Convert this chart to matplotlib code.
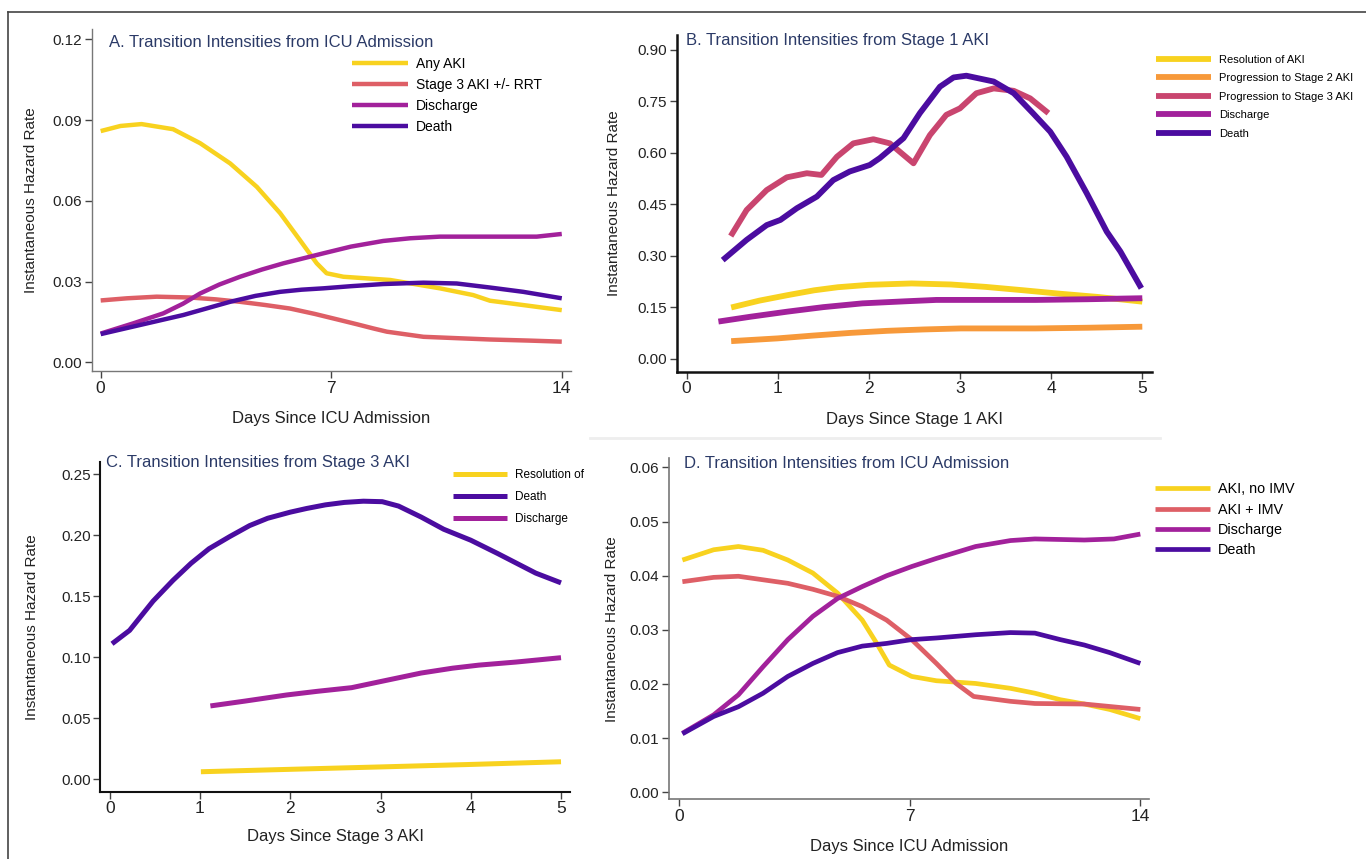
"""
Transition intensities (instantaneous hazard rates) - four panel figure.
"""

import matplotlib
matplotlib.use("Agg")
import matplotlib.pyplot as plt
from matplotlib.lines import Line2D

plt.rcParams["font.family"] = ["Liberation Sans", "DejaVu Sans"]

# colours
YELLOW = "#f8d21f"
RED = "#de5f66"
MAGENTA = "#a2219b"
INDIGO = "#4b0ca0"
ORANGE = "#f7993a"
ROSE = "#c9456f"
TITLE_COLOR = "#2b3a67"

# ---------------- Panel A: from ICU admission ----------------
a_aki_days = [0, 0.6, 1.24, 2.2, 3.02, 3.93, 4.74, 5.45, 6.05, 6.56, 6.86, 7.37,
              8.79, 10.3, 11.31, 11.82, 12.33, 14]
a_any_aki = [0.0859, 0.0878, 0.0885, 0.0866, 0.0814, 0.0739, 0.0652, 0.0554,
             0.0454, 0.0368, 0.0331, 0.0318, 0.0306, 0.0275, 0.0250, 0.0229,
             0.0221, 0.0194]
a_s3_days = [0, 0.8, 1.7, 2.71, 3.5, 4.23, 5.0, 5.75, 6.5, 7.27, 7.8, 8.28, 8.69,
             9.8, 10.8, 11.82, 13, 14]
a_stage3 = [0.0230, 0.0238, 0.0244, 0.0241, 0.0234, 0.0225, 0.0213, 0.0200,
            0.0180, 0.0157, 0.0141, 0.0126, 0.0114, 0.0095, 0.0090, 0.0085,
            0.0081, 0.0077]
a_dis_days = [0, 0.99, 1.9, 2.5, 3.02, 3.6, 4.23, 4.9, 5.55, 6.76, 7.6, 8.58, 9.4,
              10.3, 12.33, 13.24, 14]
a_discharge = [0.0107, 0.0145, 0.0182, 0.0218, 0.0256, 0.0289, 0.0318, 0.0345,
               0.0368, 0.0405, 0.0430, 0.0451, 0.0461, 0.0467, 0.0467, 0.0467, 0.0477]
a_death_days = [0, 1.2, 2.51, 3.93, 4.7, 5.45, 6.1, 6.76, 7.6, 8.58, 9.8, 10.81,
                11.82, 12.83, 14]
a_death = [0.0105, 0.0139, 0.0176, 0.0225, 0.0247, 0.0262, 0.0270, 0.0275,
           0.0283, 0.0291, 0.0296, 0.0293, 0.0278, 0.0262, 0.0238]

# ---------------- Panel B: from stage 1 AKI ----------------
b_resol_days = [0.49, 0.8, 1.11, 1.4, 1.66, 2.0, 2.47, 2.9, 3.28, 3.7, 4.1, 4.5, 5.0]
b_resol = [0.150, 0.170, 0.186, 0.200, 0.209, 0.216, 0.220, 0.217, 0.210,
           0.200, 0.190, 0.181, 0.167]
b_stage2_days = [0.49, 1.0, 1.38, 1.8, 2.2, 2.6, 3.01, 3.5, 3.83, 4.4, 5.0]
b_stage2 = [0.052, 0.060, 0.068, 0.076, 0.082, 0.086, 0.089, 0.089, 0.089, 0.091, 0.094]
b_stage3_days = [0.485, 0.66, 0.88, 1.10, 1.32, 1.48, 1.65, 1.83, 2.05, 2.23,
                 2.49, 2.67, 2.85, 3.0, 3.18, 3.37, 3.59, 3.77, 3.97]
b_stage3 = [0.358, 0.434, 0.492, 0.529, 0.541, 0.536, 0.589, 0.628, 0.640, 0.628,
            0.570, 0.652, 0.711, 0.730, 0.774, 0.788, 0.781, 0.759, 0.716]
b_disch_days = [0.35, 0.7, 1.11, 1.5, 1.93, 2.4, 2.74, 3.3, 3.83, 4.4, 5.0]
b_discharge = [0.109, 0.123, 0.138, 0.151, 0.162, 0.168, 0.172, 0.172, 0.172, 0.174, 0.177]
b_death_days = [0.397, 0.66, 0.88, 1.03, 1.21, 1.43, 1.61, 1.79, 2.01, 2.12, 2.38,
                2.56, 2.78, 2.93, 3.07, 3.37, 3.59, 3.80, 3.99, 4.17, 4.39, 4.61,
                4.76, 4.99]
b_death = [0.288, 0.347, 0.390, 0.405, 0.439, 0.473, 0.521, 0.546, 0.565, 0.585,
           0.643, 0.716, 0.793, 0.820, 0.825, 0.808, 0.774, 0.716, 0.662, 0.589,
           0.483, 0.371, 0.313, 0.206]

# ---------------- Panel C: from stage 3 AKI ----------------
c_resol_days = [1.01, 2.0, 3.02, 4.0, 5.0]
c_resol = [0.006, 0.008, 0.010, 0.012, 0.0142]
c_death_days = [0.025, 0.22, 0.48, 0.7, 0.9, 1.1, 1.33, 1.55, 1.75, 2.0, 2.18, 2.39,
                2.6, 2.81, 3.02, 3.2, 3.45, 3.7, 4.0, 4.3, 4.72, 5.0]
c_death = [0.111, 0.122, 0.146, 0.163, 0.177, 0.189, 0.199, 0.208, 0.214, 0.219,
           0.222, 0.225, 0.227, 0.228, 0.2276, 0.224, 0.215, 0.205, 0.196, 0.185,
           0.169, 0.161]
c_disch_days = [1.115, 1.5, 1.96, 2.3, 2.68, 3.0, 3.45, 3.8, 4.09, 4.5, 5.0]
c_discharge = [0.060, 0.064, 0.069, 0.072, 0.075, 0.080, 0.087, 0.091, 0.0935, 0.096, 0.0996]

# ---------------- Panel D: from ICU admission (IMV split) ----------------
d_noimv_days = [0.1, 1.05, 1.8, 2.55, 3.3, 4.06, 4.81, 5.56, 6.0, 6.38, 7.06, 7.81,
                9.0, 10.06, 10.8, 11.57, 12.3, 13.07, 14]
d_aki_noimv = [0.0429, 0.0448, 0.0454, 0.0447, 0.0429, 0.0405, 0.0368, 0.0318,
               0.0275, 0.0235, 0.0214, 0.0206, 0.0201, 0.0192, 0.0183, 0.0171,
               0.0163, 0.0153, 0.0136]
d_imv_days = [0.1, 1.05, 1.8, 3.3, 4.06, 4.81, 5.56, 6.3, 7.06, 7.81, 8.41, 8.94,
              10.06, 10.8, 12.3, 14]
d_aki_imv = [0.0389, 0.0397, 0.0399, 0.0386, 0.0375, 0.0362, 0.0343, 0.0318,
             0.0282, 0.0238, 0.0201, 0.0177, 0.0168, 0.0164, 0.0163, 0.0153]
d_disch_days = [0.1, 1.05, 1.8, 2.55, 3.3, 4.06, 4.81, 5.56, 6.3, 7.06, 7.81, 9.0,
                10.06, 10.8, 12.3, 13.2, 14]
d_discharge = [0.0109, 0.0143, 0.0180, 0.0232, 0.0282, 0.0325, 0.0358, 0.0380,
               0.0400, 0.0417, 0.0432, 0.0454, 0.0465, 0.0468, 0.0466, 0.0468, 0.0477]
d_death_days = [0.1, 1.05, 1.8, 2.55, 3.3, 4.06, 4.81, 5.56, 6.3, 7.06, 7.81, 9.0,
                10.06, 10.8, 11.57, 12.3, 13.07, 14]
d_death = [0.0108, 0.0140, 0.0158, 0.0183, 0.0214, 0.0238, 0.0258, 0.0270, 0.0275,
           0.0282, 0.0285, 0.0291, 0.0295, 0.0294, 0.0282, 0.0272, 0.0258, 0.0238]


def style_axes(ax, spine_color, spine_width):
    for side in ["top", "right"]:
        ax.spines[side].set_visible(False)
    for side in ["left", "bottom"]:
        ax.spines[side].set_color(spine_color)
        ax.spines[side].set_linewidth(spine_width)
    ax.tick_params(direction="out", length=5, width=1, color="#444444",
                   labelcolor="#222222", pad=2)
    ax.tick_params(axis="y", labelsize=11)
    ax.tick_params(axis="x", labelsize=12.5)
    ax.set_ylabel("Instantaneous Hazard Rate", fontsize=11, color="#222222")
    ax.set_facecolor("white")


def add_title(ax, text, x, y):
    ax.text(x, y, text, transform=ax.transAxes, fontsize=12, color=TITLE_COLOR,
            ha="left", va="center")


def draw(ax, days, values, color, lw, label):
    ax.plot(days, values, color=color, lw=lw, label=label,
            solid_capstyle="butt", solid_joinstyle="round")


fig = plt.figure(figsize=(13.66, 8.59), dpi=100)

# ---------- A ----------
axA = fig.add_axes([0.0672, 0.5681, 0.3508, 0.3981])
draw(axA, a_aki_days, a_any_aki, YELLOW, 3.2, "Any AKI")
draw(axA, a_s3_days, a_stage3, RED, 3.2, "Stage 3 AKI +/- RRT")
draw(axA, a_dis_days, a_discharge, MAGENTA, 3.2, "Discharge")
draw(axA, a_death_days, a_death, INDIGO, 3.2, "Death")
axA.set_xlim(-0.27, 14.28)
axA.set_ylim(-0.0032, 0.1238)
axA.set_xticks([0, 7, 14])
axA.set_yticks([0, 0.03, 0.06, 0.09, 0.12])
axA.set_yticklabels(["0.00", "0.03", "0.06", "0.09", "0.12"])
style_axes(axA, "#777777", 1.0)
axA.set_xlabel("Days Since ICU Admission", fontsize=12, color="#222222", labelpad=11)
axA.yaxis.set_label_coords(-0.112, 0.5)
add_title(axA, "A. Transition Intensities from ICU Admission", 0.036, 0.962)
axA.legend(loc="upper left", bbox_to_anchor=(0.543, 0.919), frameon=False,
           fontsize=10, handlelength=4.0, handletextpad=0.6, labelspacing=0.5,
           borderpad=0, borderaxespad=0)

# ---------- B ----------
axB = fig.add_axes([0.4953, 0.5673, 0.3478, 0.3920])
draw(axB, b_resol_days, b_resol, YELLOW, 4.2, "Resolution of AKI")
draw(axB, b_stage2_days, b_stage2, ORANGE, 4.2, "Progression to Stage 2 AKI")
draw(axB, b_stage3_days, b_stage3, ROSE, 4.2, "Progression to Stage 3 AKI")
draw(axB, b_disch_days, b_discharge, MAGENTA, 4.2, "Discharge")
draw(axB, b_death_days, b_death, INDIGO, 4.2, "Death")
axB.set_xlim(-0.109, 5.103)
axB.set_ylim(-0.037, 0.9437)
axB.set_xticks([0, 1, 2, 3, 4, 5])
axB.set_yticks([0, 0.15, 0.30, 0.45, 0.60, 0.75, 0.90])
axB.set_yticklabels(["0.00", "0.15", "0.30", "0.45", "0.60", "0.75", "0.90"])
style_axes(axB, "#111111", 1.8)
axB.set_xlabel("Days Since Stage 1 AKI", fontsize=12, color="#222222", labelpad=11)
axB.yaxis.set_label_coords(-0.116, 0.5)
add_title(axB, "B. Transition Intensities from Stage 1 AKI", 0.02, 0.985)
axB.legend(loc="upper left", bbox_to_anchor=(1.01, 0.941), frameon=False,
           fontsize=8, handlelength=4.9, handletextpad=0.7, labelspacing=0.76,
           borderpad=0, borderaxespad=0)

# ---------- C ----------
axC = fig.add_axes([0.0734, 0.0783, 0.3439, 0.3842])
draw(axC, c_resol_days, c_resol, YELLOW, 3.6, "Resolution of")
draw(axC, c_death_days, c_death, INDIGO, 3.6, "Death")
draw(axC, c_disch_days, c_discharge, MAGENTA, 3.6, "Discharge")
axC.set_xlim(-0.105, 5.10)
axC.set_ylim(-0.0104, 0.2604)
axC.set_xticks([0, 1, 2, 3, 4, 5])
axC.set_yticks([0, 0.05, 0.10, 0.15, 0.20, 0.25])
axC.set_yticklabels(["0.00", "0.05", "0.10", "0.15", "0.20", "0.25"])
style_axes(axC, "#111111", 1.5)
axC.set_xlabel("Days Since Stage 3 AKI", fontsize=12, color="#222222", labelpad=9)
axC.yaxis.set_label_coords(-0.131, 0.5)
add_title(axC, "C. Transition Intensities from Stage 3 AKI", 0.012, 0.997)
axC.legend(loc="upper left", bbox_to_anchor=(0.75, 0.979), frameon=False,
           fontsize=8.5, handlelength=4.6, handletextpad=0.7, labelspacing=0.85,
           borderpad=0, borderaxespad=0)

# ---------- D ----------
axD = fig.add_axes([0.4899, 0.0695, 0.3514, 0.3970])
draw(axD, d_noimv_days, d_aki_noimv, YELLOW, 3.4, "AKI, no IMV")
draw(axD, d_imv_days, d_aki_imv, RED, 3.4, "AKI + IMV")
draw(axD, d_disch_days, d_discharge, MAGENTA, 3.4, "Discharge")
draw(axD, d_death_days, d_death, INDIGO, 3.4, "Death")
axD.set_xlim(-0.30, 14.27)
axD.set_ylim(-0.0013, 0.0617)
axD.set_xticks([0, 7, 14])
axD.set_yticks([0, 0.01, 0.02, 0.03, 0.04, 0.05, 0.06])
axD.set_yticklabels(["0.00", "0.01", "0.02", "0.03", "0.04", "0.05", "0.06"])
style_axes(axD, "#777777", 1.2)
axD.set_xlabel("Days Since ICU Admission", fontsize=12, color="#222222", labelpad=11)
axD.yaxis.set_label_coords(-0.105, 0.5)
add_title(axD, "D. Transition Intensities from ICU Admission", 0.031, 0.985)
axD.legend(loc="upper left", bbox_to_anchor=(1.013, 0.929), frameon=False,
           fontsize=10.4, handlelength=3.8, handletextpad=0.55, labelspacing=0.42,
           borderpad=0, borderaxespad=0)

# outer frame (top and left edges) and faint separator
fig.add_artist(Line2D([8 / 1366, 1.0], [1 - 12 / 859, 1 - 12 / 859],
                      transform=fig.transFigure, color="#444444", lw=1.2))
fig.add_artist(Line2D([8 / 1366, 8 / 1366], [0.0, 1 - 12 / 859],
                      transform=fig.transFigure, color="#444444", lw=1.2))
fig.add_artist(Line2D([590 / 1366, 1160 / 1366], [1 - 438 / 859, 1 - 438 / 859],
                      transform=fig.transFigure, color="#eeeeee", lw=2))

fig.savefig("out.png", dpi=100, facecolor="white")
